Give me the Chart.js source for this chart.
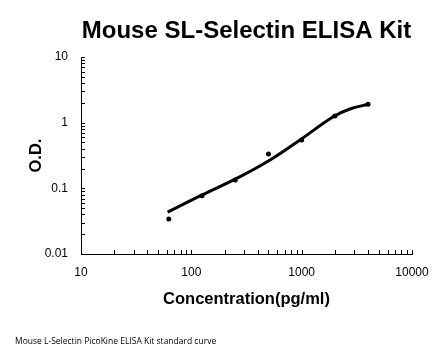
<!DOCTYPE html>
<html><head><meta charset="utf-8">
<script src="https://cdn.jsdelivr.net/npm/chart.js@4/dist/chart.umd.min.js"></script>
<style>html,body{margin:0;padding:0;background:#fff}</style>
</head><body><canvas id="c" width="446" height="356"></canvas>
<script>
const titleText = 'Mouse SL-Selectin ELISA Kit';
const xTitle = 'Concentration(pg/ml)';
const yTitle = 'O.D.';
const footnote = 'Mouse L-Selectin PicoKine ELISA Kit standard curve';
const standardConc = [62.5, 125, 250, 500, 1000, 2000, 4000];
const standardOD = [0.034, 0.077, 0.134, 0.334, 0.545, 1.26, 1.9];
const curveConc = [61, 120, 277, 517, 966, 1932, 2735, 4000];
const curveOD = [0.0433, 0.0766, 0.151, 0.270, 0.546, 1.233, 1.616, 1.905];
const xTickLabels = [10, 100, 1000, 10000];
const yTickLabels = [0.01, 0.1, 1, 10];

const FONT = "'Liberation Sans', Arial, sans-serif";

function logTicks(majors) {
  const out = [];
  for (let i = 0; i < majors.length - 1; i++) {
    for (let k = 1; k <= 9; k++) out.push(k === 1 ? majors[i] : majors[i] * k);
  }
  out.push(majors[majors.length - 1]);
  return out;
}

const inwardTicks = {
  id: 'inwardTicks',
  afterDraw(chart) {
    const ctx = chart.ctx;
    const xs = chart.scales.x, ys = chart.scales.y;
    ctx.save();
    ctx.strokeStyle = '#000';
    ctx.lineWidth = 1;
    xs.ticks.forEach(t => {
      const px = Math.round(xs.getPixelForValue(t.value)) + 0.5;
      ctx.beginPath(); ctx.moveTo(px, xs.top); ctx.lineTo(px, xs.top - 4); ctx.stroke();
    });
    ys.ticks.forEach(t => {
      const py = Math.round(ys.getPixelForValue(t.value)) + 0.5;
      ctx.beginPath(); ctx.moveTo(ys.right, py); ctx.lineTo(ys.right + 4, py); ctx.stroke();
    });
    ctx.restore();
  }
};

const footnotePlugin = {
  id: 'footnote',
  afterDraw(chart) {
    const ctx = chart.ctx;
    ctx.save();
    ctx.fillStyle = '#000';
    ctx.font = "8.5px 'Open Sans', sans-serif";
    ctx.textBaseline = 'middle';
    ctx.textAlign = 'left';
    ctx.fillText(footnote, 15, 342);
    ctx.restore();
  }
};

new Chart(document.getElementById('c'), {
  type: 'scatter',
  data: {
    datasets: [
      {
        label: 'fit',
        data: curveConc.map((x, i) => ({x, y: curveOD[i]})),
        showLine: true,
        borderColor: '#000',
        borderWidth: 3,
        pointRadius: 0,
        tension: 0.4,
        fill: false
      },
      {
        label: 'standards',
        data: standardConc.map((x, i) => ({x, y: standardOD[i]})),
        showLine: false,
        pointRadius: 2.5,
        pointBackgroundColor: '#000',
        pointBorderColor: '#000',
        pointBorderWidth: 0
      }
    ]
  },
  options: {
    responsive: false,
    devicePixelRatio: 1,
    animation: false,
    layout: { padding: { left: 10, right: 34, top: 0, bottom: 42 } },
    plugins: {
      legend: { display: false },
      tooltip: { enabled: false },
      title: {
        display: true,
        text: titleText,
        fullSize: false,
        color: '#000',
        font: { family: FONT, size: 24, weight: 'bold', lineHeight: 1.2 },
        padding: { top: 17, bottom: 11.2 }
      }
    },
    scales: {
      x: {
        type: 'logarithmic',
        min: 10, max: 10000,
        afterBuildTicks: s => { s.ticks = logTicks(xTickLabels).map(v => ({value: v})); },
        afterFit: s => { s.height = 60; },
        grid: { display: false, drawTicks: false },
        border: { display: true, color: '#000', width: 1 },
        ticks: {
          autoSkip: false, maxRotation: 0, padding: 11, color: '#000',
          font: { family: FONT, size: 12 },
          callback: v => xTickLabels.includes(v) ? String(v) : ''
        },
        title: {
          display: true, text: xTitle, color: '#000',
          font: { family: FONT, size: 16.5, weight: 'bold', lineHeight: 1.2 },
          padding: { top: 0, bottom: 5 }
        }
      },
      y: {
        type: 'logarithmic',
        min: 0.01, max: 10,
        afterBuildTicks: s => { s.ticks = logTicks(yTickLabels).map(v => ({value: v})); },
        afterFit: s => { s.width = 71; },
        grid: { display: false, drawTicks: false },
        border: { display: true, color: '#000', width: 1 },
        ticks: {
          autoSkip: false, padding: 13, color: '#000',
          font: { family: FONT, size: 12 },
          callback: v => yTickLabels.includes(v) ? String(v) : ''
        },
        title: {
          display: true, text: yTitle, color: '#000',
          font: { family: FONT, size: 16.5, weight: 'bold', lineHeight: 1.2 },
          padding: { top: 17, bottom: 0 }
        }
      }
    }
  },
  plugins: [inwardTicks, footnotePlugin]
});
</script>
</body></html>
